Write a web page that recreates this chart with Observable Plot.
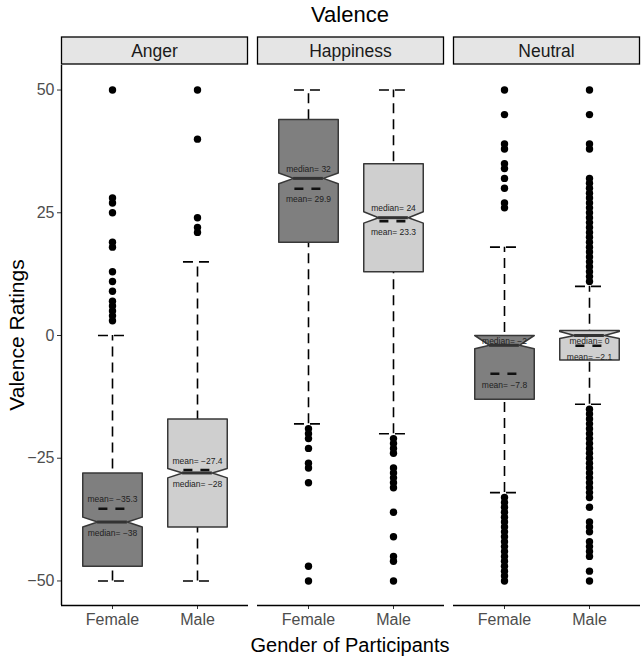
<!DOCTYPE html>
<html><head><meta charset="utf-8">
<script src="https://cdn.jsdelivr.net/npm/d3@7"></script>
<script src="https://cdn.jsdelivr.net/npm/@observablehq/plot@0.6"></script>
<style>body{margin:0;background:#fff;font-family:"Liberation Sans",Arial,sans-serif}</style>
</head><body><div id="chart"></div>
<script>
// ---- data ----
const emotions = ["Anger", "Happiness", "Neutral"];
const genders = ["Female", "Male"];
const yTicks = [50, 25, 0, -25, -50];
// groups in order: Anger-F, Anger-M, Happiness-F, Happiness-M, Neutral-F, Neutral-M
const groupEmotion = ["Anger", "Anger", "Happiness", "Happiness", "Neutral", "Neutral"];
const groupGender  = ["Female", "Male", "Female", "Male", "Female", "Male"];
const whiskerLow  = [-50, -50, -18, -20, -32, -14];
const lowerHinge  = [-47, -39, 19, 13, -13, -5];
const notchLow    = [-39, -29, 30.9, 22.9, -2.7, -0.6];
const medians     = [-38, -28, 32, 24, -2, 0];
const notchHigh   = [-37, -27.1, 33.1, 25.2, 0, 0.8];
const upperHinge  = [-28, -17, 44, 35, 0, 1];
const whiskerHigh = [0, 15, 50, 50, 18, 10];
const means       = [-35.3, -27.4, 29.9, 23.3, -7.8, -2.1];
// outliers
const outAngerFemale = [50, 28, 27, 25, 19, 18, 13, 11, 9, 7, 6, 5, 4, 3];
const outAngerMale = [50, 40, 24, 22, 21];
const outHappyFemale = [-19, -20, -21, -23, -26, -27, -30, -47, -50];
const outHappyMale = [-21, -22, -23, -24, -27, -28, -29, -30, -31, -36, -41, -45, -46, -50];
const outNeutralFemale = [50, 45, 39, 38, 35, 34, 32, 30, 27, 26,
  -33, -34, -35, -36, -37, -38, -39, -40, -41, -42, -43, -44, -45, -46, -47, -48, -49, -50];
const outNeutralMale = [50, 45, 39, 38, 32, 31, 30, 29, 28, 27, 26, 25, 24, 23, 22, 21, 20, 19, 18, 17, 16, 15, 14, 13, 12, 11,
  -15, -16, -17, -18, -19, -20, -21, -22, -23, -24, -25, -26, -27, -28, -29, -30, -31, -32, -33,
  -35, -38, -39, -40, -42, -43, -44, -45, -48, -50];

// ---- derived tables ----
const fillColors = ["#7f7f7f", "#cfcfcf"];
const boxHalf = 0.35, notchHalf = 0.175, capHalf = 0.165, meanHalf = 0.16;
const xDomain = [0.4, 2.6];
const yDomain = [-55, 55];
const fmt = v => String(v).replace("-", "\u2212");

const groups = groupEmotion.map((e, i) => ({
  emotion: e, gender: groupGender[i], gi: genders.indexOf(groupGender[i]) + 1,
  wl: whiskerLow[i], q1: lowerHinge[i], nl: notchLow[i], med: medians[i],
  nh: notchHigh[i], q3: upperHinge[i], wh: whiskerHigh[i], mean: means[i], key: i
}));
const poly = groups.flatMap(g => {
  const a = g.gi - boxHalf, b = g.gi + boxHalf, na = g.gi - notchHalf, nb = g.gi + notchHalf;
  return [[a, g.q1], [a, g.nl], [na, g.med], [a, g.nh], [a, g.q3], [b, g.q3], [b, g.nh], [nb, g.med], [b, g.nl], [b, g.q1], [a, g.q1]]
    .map(([x, y]) => ({x, y, key: g.key, emotion: g.emotion, gender: g.gender}));
});
const outSets = [[outAngerFemale, "Anger", "Female"], [outAngerMale, "Anger", "Male"],
  [outHappyFemale, "Happiness", "Female"], [outHappyMale, "Happiness", "Male"],
  [outNeutralFemale, "Neutral", "Female"], [outNeutralMale, "Neutral", "Male"]];
const outliers = outSets.flatMap(([arr, e, gd]) => arr.map(v => ({emotion: e, gi: genders.indexOf(gd) + 1, v})));
// label placement: the higher statistic is labelled above (kept inside the box), the lower one below;
// when the box has almost no room above the statistic, its label goes just under it
const upOff = 1.85, downOff = 2.25, inset = 1.2, minRoom = 2;
const labels = groups.flatMap(g => {
  const medAbove = g.med >= g.mean;
  const place = (v, above) => above
    ? (g.q3 - v >= minRoom ? Math.min(v + upOff, g.q3 - inset) : v - inset)
    : v - downOff;
  return [
    {emotion: g.emotion, gi: g.gi, y: place(g.med, medAbove), text: "median= " + fmt(g.med)},
    {emotion: g.emotion, gi: g.gi, y: place(g.mean, !medAbove), text: "mean= " + fmt(g.mean)}
  ];
});
const dash = "10,6";

const plot = Plot.plot({
  width: 644, height: 657,
  marginTop: 65, marginBottom: 52, marginLeft: 60, marginRight: 4,
  style: {fontFamily: "'Liberation Sans', Arial, sans-serif", background: "white", overflow: "visible"},
  fx: {domain: emotions, paddingInner: 0.046, paddingOuter: 0, axis: null, label: null},
  x: {domain: xDomain, label: null},
  y: {domain: yDomain, label: null},
  color: {domain: genders, range: fillColors},
  marks: [
    Plot.axisY({ticks: yTicks, tickSize: 4, tickPadding: 3, fontSize: 16, label: null, stroke: "#333", fill: "#4d4d4d"}),
    Plot.axisX({ticks: [1, 2], tickFormat: d => genders[d - 1], tickSize: 4, tickPadding: 4, fontSize: 16, label: null, stroke: "#333", fill: "#4d4d4d"}),
    Plot.ruleY([yDomain[0]], {stroke: "black", strokeWidth: 1.4}),
    Plot.ruleX([{emotion: emotions[0], x: xDomain[0]}], {x: "x", fx: "emotion", stroke: "black", strokeWidth: 1.4}),
    // whiskers (dashed errorbars)
    Plot.ruleX(groups, {x: "gi", y1: "wl", y2: "wh", fx: "emotion", stroke: "black", strokeWidth: 1.6, strokeDasharray: dash}),
    Plot.ruleY(groups, {y: "wh", x1: d => d.gi - capHalf, x2: d => d.gi + capHalf, fx: "emotion", stroke: "black", strokeWidth: 1.6, strokeDasharray: dash}),
    Plot.ruleY(groups, {y: "wl", x1: d => d.gi - capHalf, x2: d => d.gi + capHalf, fx: "emotion", stroke: "black", strokeWidth: 1.6, strokeDasharray: dash}),
    // notched boxes
    Plot.line(poly, {x: "x", y: "y", z: "key", fx: "emotion", fill: "gender", stroke: "#383838", strokeWidth: 1.5, curve: "linear"}),
    Plot.ruleY(groups, {y: "med", x1: d => d.gi - notchHalf, x2: d => d.gi + notchHalf, fx: "emotion", stroke: "#333", strokeWidth: 3}),
    Plot.ruleY(groups, {y: "mean", x1: d => d.gi - meanHalf, x2: d => d.gi + meanHalf, fx: "emotion", stroke: "#111", strokeWidth: 2.6, strokeDasharray: "9,8"}),
    Plot.text(labels, {x: "gi", y: "y", text: "text", fx: "emotion", fontSize: 8.5, fill: "#222"}),
    // outliers
    Plot.dot(outliers, {x: "gi", y: "v", fx: "emotion", r: 3.7, fill: "black", stroke: "none"})
  ]
});

document.getElementById("chart").appendChild(plot);
const svg = d3.select(plot);

// facet strips
const fx = plot.scale("fx");
emotions.forEach(e => {
  const x0 = fx.apply(e), w = fx.bandwidth;
  svg.append("rect").attr("x", x0 + 0.5).attr("y", 37).attr("width", w - 1).attr("height", 27)
    .attr("fill", "#e5e5e5").attr("stroke", "black").attr("stroke-width", 1.3);
  svg.append("text").attr("x", x0 + w / 2).attr("y", 50.5).attr("dy", "0.35em").attr("text-anchor", "middle")
    .attr("font-size", 17.5).attr("fill", "#1a1a1a").text(e);
});
const cx = (60 + 640) / 2;
svg.append("text").attr("x", cx).attr("y", 14).attr("dy", "0.35em").attr("text-anchor", "middle")
  .attr("font-size", 22).attr("fill", "black").text("Valence");
svg.append("text").attr("x", cx).attr("y", 645).attr("dy", "0.35em").attr("text-anchor", "middle")
  .attr("font-size", 20).attr("fill", "black").text("Gender of Participants");
svg.append("text").attr("transform", "translate(17,335) rotate(-90)").attr("dy", "0.35em").attr("text-anchor", "middle")
  .attr("font-size", 21).attr("fill", "black").text("Valence Ratings");
</script>
</body></html>
